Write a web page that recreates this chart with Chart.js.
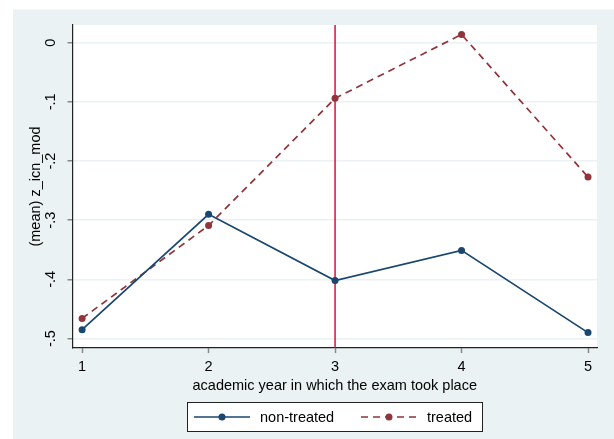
<!DOCTYPE html>
<html>
<head>
<meta charset="utf-8">
<script src="https://cdn.jsdelivr.net/npm/chart.js@4/dist/chart.umd.min.js"></script>
<style>
  html, body { margin: 0; padding: 0; background: #ffffff; }
  #wrap { width: 614px; height: 439px; }
</style>
</head>
<body>
<div id="wrap"><canvas id="c" width="614" height="439"></canvas></div>
<script>
// Academic years on the x axis
const years = [1, 2, 3, 4, 5];
// Mean of z_icn_mod per year
const nonTreated = [-0.485, -0.290, -0.402, -0.351, -0.490];
const treated = [-0.466, -0.309, -0.094, 0.014, -0.227];
// Axis ticks and labels
const yTicks = [0, -0.1, -0.2, -0.3, -0.4, -0.5];
const yTickLabels = ['0', '-.1', '-.2', '-.3', '-.4', '-.5'];
const xTickLabels = ['1', '2', '3', '4', '5'];
const seriesNames = ['non-treated', 'treated'];
const cutoffYear = 3;
const yTitle = '(mean) z_icn_mod';
const xTitle = 'academic year in which the exam took place';

const FONT = '"Liberation Sans", Arial, sans-serif';
const FSIZE = 14.5;
const NAVY = '#1a476f';
const MAROON = '#90353b';
const BG = '#eaf2f3';

const toPoints = vals => years.map((x, i) => ({ x, y: vals[i] }));

const framePlugin = {
  id: 'frame',
  beforeDraw(chart) {
    const { ctx, chartArea: a } = chart;
    ctx.save();
    ctx.fillStyle = '#ffffff';
    ctx.fillRect(0, 0, chart.width, chart.height);
    ctx.fillStyle = BG;
    ctx.fillRect(13, 9.5, chart.width - 13, chart.height - 9.5);
    ctx.fillStyle = '#ffffff';
    ctx.fillRect(a.left, a.top, a.right - a.left, a.bottom - a.top);
    ctx.restore();
  },
  beforeDatasetsDraw(chart) {
    // vertical reference line at the cutoff year
    const { ctx, chartArea: a } = chart;
    const x = chart.scales.x.getPixelForValue(cutoffYear);
    ctx.save();
    ctx.strokeStyle = '#d6103c';
    ctx.lineWidth = 1.5;
    ctx.beginPath();
    ctx.moveTo(x, a.top);
    ctx.lineTo(x, a.bottom);
    ctx.stroke();
    ctx.restore();
  },
  afterDraw(chart) {
    const { ctx, chartArea: a } = chart;
    const ys = chart.scales.y;
    ctx.save();
    ctx.fillStyle = '#000000';
    ctx.font = FSIZE + 'px ' + FONT;
    ctx.textAlign = 'center';
    ctx.textBaseline = 'middle';
    // rotated y tick labels
    yTicks.forEach((v, i) => {
      const py = ys.getPixelForValue(v);
      ctx.save();
      ctx.translate(51, py);
      ctx.rotate(-Math.PI / 2);
      ctx.fillText(yTickLabels[i], 0, 0);
      ctx.restore();
    });
    // axis titles
    ctx.save();
    ctx.translate(36, (a.top + a.bottom) / 2);
    ctx.rotate(-Math.PI / 2);
    ctx.fillText(yTitle, 0, 0);
    ctx.restore();
    ctx.fillText(xTitle, (a.left + a.right) / 2, 386);

    // legend
    const bx = 187, by = 402, bw = 296, bh = 30;
    ctx.fillStyle = '#ffffff';
    ctx.fillRect(bx, by, bw, bh);
    ctx.strokeStyle = '#222222';
    ctx.lineWidth = 1;
    ctx.strokeRect(bx + 0.5, by + 0.5, bw - 1, bh - 1);
    const cy = by + bh / 2;
    const entries = [
      { name: seriesNames[0], color: NAVY, dash: [], x0: 194, x1: 250, tx: 260 },
      { name: seriesNames[1], color: MAROON, dash: [7, 5], x0: 361, x1: 417, tx: 427 }
    ];
    entries.forEach(e => {
      ctx.strokeStyle = e.color;
      ctx.lineWidth = 1.7;
      ctx.setLineDash(e.dash);
      ctx.beginPath();
      ctx.moveTo(e.x0, cy);
      ctx.lineTo(e.x1, cy);
      ctx.stroke();
      ctx.setLineDash([]);
      ctx.fillStyle = e.color;
      ctx.beginPath();
      ctx.arc((e.x0 + e.x1) / 2, cy, 3.5, 0, Math.PI * 2);
      ctx.fill();
      ctx.fillStyle = '#000000';
      ctx.textAlign = 'left';
      ctx.fillText(e.name, e.tx, cy + 0.5);
    });
    ctx.restore();
  }
};

new Chart(document.getElementById('c'), {
  type: 'line',
  data: {
    datasets: [
      {
        label: seriesNames[0],
        data: toPoints(nonTreated),
        borderColor: NAVY,
        backgroundColor: NAVY,
        borderWidth: 1.7,
        pointRadius: 3.5,
        pointBorderWidth: 0,
        tension: 0
      },
      {
        label: seriesNames[1],
        data: toPoints(treated),
        borderColor: MAROON,
        backgroundColor: MAROON,
        borderWidth: 1.7,
        borderDash: [7, 5],
        pointRadius: 3.5,
        pointBorderWidth: 0,
        tension: 0
      }
    ]
  },
  options: {
    responsive: false,
    animation: false,
    devicePixelRatio: 1,
    layout: { padding: { left: 0, top: 25, right: 17, bottom: 0 } },
    plugins: { legend: { display: false }, tooltip: { enabled: false } },
    scales: {
      x: {
        type: 'linear',
        min: 0.924,
        max: 5.071,
        afterBuildTicks: s => { s.ticks = years.map(v => ({ value: v })); },
        afterFit: s => { s.height = 91; },
        grid: { drawOnChartArea: false, drawTicks: true, tickLength: 5, tickColor: '#888888', tickWidth: 1.5 },
        border: { display: true, color: '#222222', width: 1.2 },
        ticks: {
          color: '#000000',
          font: { family: FONT, size: FSIZE },
          padding: 5,
          maxRotation: 0,
          callback: (v) => xTickLabels[years.indexOf(v)] ?? ''
        }
      },
      y: {
        type: 'linear',
        min: -0.516,
        max: 0.030,
        afterBuildTicks: s => { s.ticks = yTicks.map(v => ({ value: v })); },
        afterFit: s => { s.width = 72.5; },
        grid: { color: BG, lineWidth: 1.5, drawTicks: true, tickLength: 5, tickColor: '#888888' },
        border: { display: true, color: '#222222', width: 1.2 },
        ticks: { display: false }
      }
    }
  },
  plugins: [framePlugin]
});
</script>
</body>
</html>
